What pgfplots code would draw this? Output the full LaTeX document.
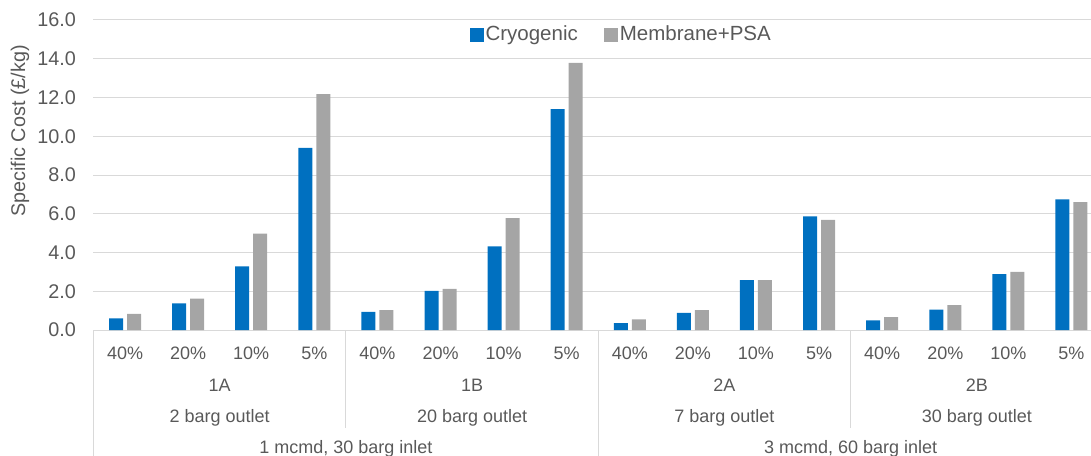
\documentclass[border=0pt]{standalone}
\usepackage{pgfplots}
\pgfplotsset{compat=1.18}
\usepackage{fontspec}
\setmainfont{Liberation Sans}
\definecolor{cryo}{HTML}{0070C0}
\definecolor{memb}{HTML}{A5A5A5}
\definecolor{txt}{HTML}{595959}
\definecolor{gridc}{HTML}{D9D9D9}
\begin{document}
\fontsize{18pt}{22pt}\selectfont
\begin{tikzpicture}
\begin{axis}[
  at={(0,0)}, anchor=south west,
  scale only axis, width=997.5pt, height=310pt,
  xmin=-0.5, xmax=15.31, ymin=0, ymax=16,
  ytick={0,2,...,16},
  xtick={0,...,15},
  xticklabels={40\%,20\%,10\%,5\%,40\%,20\%,10\%,5\%,40\%,20\%,10\%,5\%,40\%,20\%,10\%,5\%},
  ymajorgrids, major grid style={gridc, line width=1pt},
  axis line style={draw=none},
  major tick length=0pt,
  tick label style={text=txt},
  /pgf/number format/assume math mode=true,
  yticklabel style={font=\fontsize{19.8pt}{24pt}\selectfont, /pgf/number format/fixed, /pgf/number format/fixed zerofill, /pgf/number format/precision=1, anchor=east, inner sep=0pt, xshift=-17.5pt},
  xticklabel style={font=\fontsize{18pt}{22pt}\selectfont, anchor=center, inner sep=0pt, yshift=-23pt},
  ybar=4pt, bar width=14pt,
  clip=false,
  legend style={at={(0.529,0.952)}, anchor=center, draw=none, fill=none, legend columns=2, font=\fontsize{20.5pt}{24pt}\selectfont, text=txt, nodes={inner sep=1.5pt}, /tikz/every even column/.append style={column sep=25pt}},
  legend image code/.code={\fill[#1] (0pt,-7pt) rectangle (14pt,7pt);},
]
\addplot[fill=cryo, draw=none] coordinates {
(0,0.60) (1,1.38) (2,3.28) (3,9.40)
(4,0.93) (5,2.02) (6,4.31) (7,11.40)
(8,0.36) (9,0.88) (10,2.57) (11,5.86)
(12,0.50) (13,1.05) (14,2.88) (15,6.74)};
\addplot[fill=memb, draw=none] coordinates {
(0,0.83) (1,1.62) (2,4.98) (3,12.17)
(4,1.03) (5,2.12) (6,5.78) (7,13.79)
(8,0.55) (9,1.02) (10,2.57) (11,5.69)
(12,0.66) (13,1.29) (14,3.00) (15,6.60)};
\legend{Cryogenic, Membrane+PSA}
% separators
\draw[gridc, line width=1pt] (axis cs:-0.5,0) -- ([yshift=-140pt]axis cs:-0.5,0);
\draw[gridc, line width=1pt] (axis cs:3.5,0) -- ([yshift=-98pt]axis cs:3.5,0);
\draw[gridc, line width=1pt] (axis cs:7.5,0) -- ([yshift=-140pt]axis cs:7.5,0);
\draw[gridc, line width=1pt] (axis cs:11.5,0) -- ([yshift=-98pt]axis cs:11.5,0);
% group labels
\node[text=txt] at ([yshift=-55.5pt]axis cs:1.5,0) {1A};
\node[text=txt] at ([yshift=-55.5pt]axis cs:5.5,0) {1B};
\node[text=txt] at ([yshift=-55.5pt]axis cs:9.5,0) {2A};
\node[text=txt] at ([yshift=-55.5pt]axis cs:13.5,0) {2B};
\node[text=txt] at ([yshift=-87.5pt]axis cs:1.5,0) {2 barg outlet};
\node[text=txt] at ([yshift=-87.5pt]axis cs:5.5,0) {20 barg outlet};
\node[text=txt] at ([yshift=-87.5pt]axis cs:9.5,0) {7 barg outlet};
\node[text=txt] at ([yshift=-87.5pt]axis cs:13.5,0) {30 barg outlet};
\node[text=txt] at ([yshift=-119pt]axis cs:3.5,0) {1 mcmd, 30 barg inlet};
\node[text=txt] at ([yshift=-119pt]axis cs:11.5,0) {3 mcmd, 60 barg inlet};
\node[text=txt, rotate=90, font=\fontsize{19.8pt}{24pt}\selectfont] at ([shift={(-73.5pt,199pt)}]rel axis cs:0,0) {Specific Cost (£/kg)};
\end{axis}
\pgfresetboundingbox
\path[use as bounding box] (-93.5pt,-125pt) rectangle (997.5pt,330pt);
\end{tikzpicture}
\end{document}
